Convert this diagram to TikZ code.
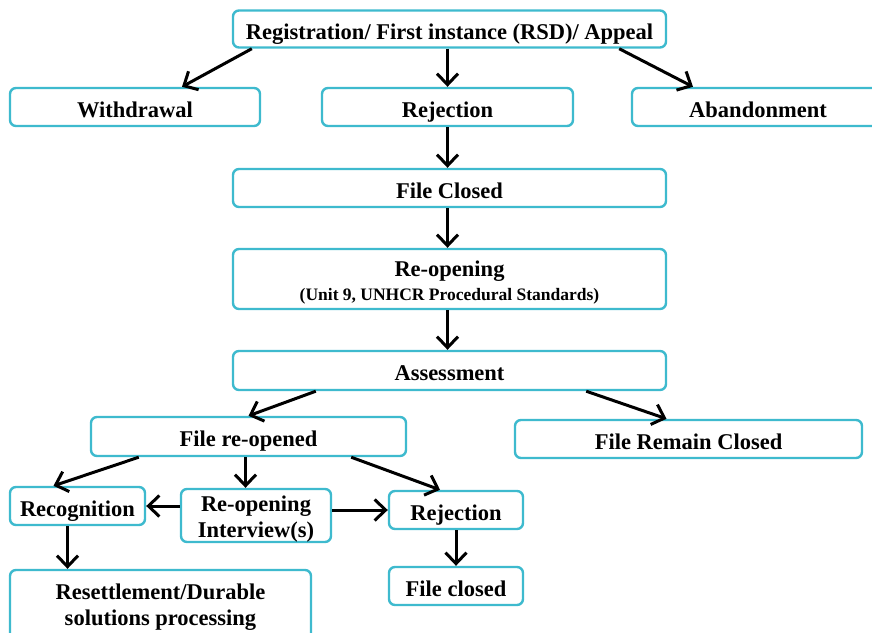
\documentclass[tikz,border=0pt]{standalone}
\usepackage{fontspec}
\setmainfont{Liberation Serif}
\usetikzlibrary{arrows.meta}
\definecolor{boxcyan}{RGB}{62,186,206}
\tikzset{
	stage/.style={draw=boxcyan, line width=2.4pt, rounded corners=6pt, fill=white,
		inner sep=2pt, align=center, font=\fontsize{22.5}{26}\selectfont\bfseries,
		text height=20pt, text depth=0pt},
}

\begin{document}
\begin{tikzpicture}[x=1pt, y=-1pt, line width=3pt, arrows={-Straight Barb[length=11pt,width=21pt]}]
	\useasboundingbox (0,0) rectangle (872,632);

	\node [stage, minimum width=433pt, minimum height=37pt] (reg) at (449.5,29) {Registration/ First instance (RSD)/ Appeal};
	\node [stage, minimum width=250pt, minimum height=38pt] (withdraw) at (135,107) {Withdrawal};
	\node [stage, minimum width=251pt, minimum height=38pt] (reject) at (447.5,107) {Rejection};
	\node [stage, minimum width=252pt, minimum height=38pt] (abandon) at (758,107) {Abandonment};
	\node [stage, minimum width=433pt, minimum height=38pt] (closed) at (449.5,188) {File Closed};
	\node [stage, minimum width=433pt, minimum height=60pt, text height=42pt] (reopen) at (449.5,279) {Re-opening\\[-2pt]{\fontsize{17.5}{20}\selectfont (Unit 9, UNHCR Procedural Standards)}};
	\node [stage, minimum width=433pt, minimum height=39pt] (assess) at (449.5,370.5) {Assessment};
	\node [stage, minimum width=315pt, minimum height=39pt] (fileopen) at (248.5,436.5) {File re-opened};
	\node [stage, minimum width=347pt, minimum height=38pt] (remain) at (688.5,439) {File Remain Closed};
	\node [stage, minimum width=135pt, minimum height=38pt] (recog) at (77.5,506) {Recognition};
	\node [stage, minimum width=150pt, minimum height=53pt, text height=43pt] (interview) at (256,515.5) {Re-opening\\Interview(s)};
	\node [stage, minimum width=134pt, minimum height=38pt] (reject2) at (456,510) {Rejection};
	\node [stage, minimum width=301pt, minimum height=72pt, text height=39pt] (resettle) at (160.5,606) {Resettlement/Durable\\solutions processing};
	\node [stage, minimum width=134pt, minimum height=38pt] (fclosed) at (456,586) {File closed};

	% first outcomes
	\draw ([xshift=20pt]reg.south west) -- ([xshift=47pt]withdraw.north);
	\draw (reg.south -| reject.north) -- (reject.north);
	\draw ([xshift=-48pt]reg.south east) -- ([xshift=-65pt]abandon.north);

	% main column
	\draw (reject.south) -- (reject.south |- closed.north);
	\draw ([xshift=-2pt]closed.south) -- ([xshift=-2pt]reopen.north);
	\draw ([xshift=-2pt]reopen.south) -- ([xshift=-2pt]assess.north);

	% after assessment
	\draw ([xshift=84pt]assess.south west) -- (fileopen.north);
	\draw ([xshift=-81pt]assess.south east) -- ([xshift=-22pt]remain.north);

	% re-opened file
	\draw ([xshift=49pt]fileopen.south west) -- ([xshift=-24pt]recog.north);
	\draw ([xshift=-3pt]fileopen.south) -- ([xshift=-3pt]fileopen.south |- interview.north);
	\draw ([xshift=-56pt]fileopen.south east) -- ([xshift=-16pt]reject2.north);
	\draw (interview.west |- recog.east) -- (recog.east);
	\draw (interview.east |- reject2.west) -- (reject2.west);
	\draw ([xshift=-10pt]recog.south) -- ([xshift=-10pt]recog.south |- resettle.north);
	\draw (reject2.south) -- (fclosed.north);
\end{tikzpicture}
\end{document}
